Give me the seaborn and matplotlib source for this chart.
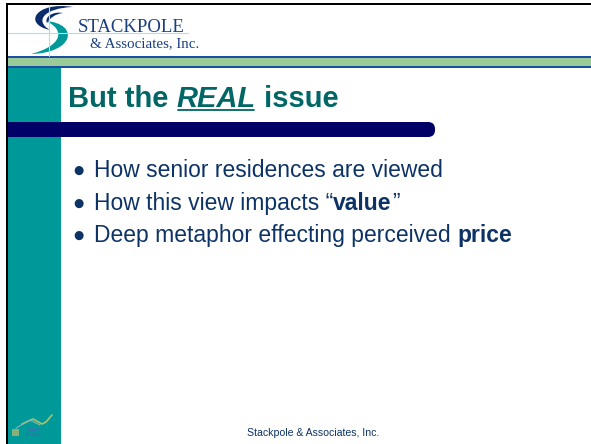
import numpy as np
import matplotlib.pyplot as plt
import seaborn as sns
from matplotlib.path import Path
from matplotlib.patches import PathPatch, Rectangle, FancyBboxPatch

sns.set_theme(style="white")
plt.rcParams['font.family'] = ['Liberation Sans', 'DejaVu Sans']

# slide text
company = ["STACKPOLE", "& Associates, Inc."]
title_parts = ["But the ", "REAL", " issue"]
bullets = [
    [("How senior residences are viewed", "normal")],
    [("How this view impacts \u201c", "normal"), ("value", "bold"), ("\u201d", "normal")],
    [("Deep metaphor effecting perceived ", "normal"), ("price", "bold")],
]
footer = "Stackpole & Associates, Inc."

W, H = 591, 444
fig = plt.figure(figsize=(W / 100, H / 100), dpi=100)
ax = fig.add_axes([0, 0, 1, 1])
ax.set_xlim(0, W)
ax.set_ylim(H, 0)
ax.axis('off')

teal = '#009999'
navy = '#000066'
text_navy = '#0d3366'
band_blue = '#1c4fa0'

# frame
ax.add_patch(Rectangle((6, 3), W, 2.2, color='black', lw=0))
ax.add_patch(Rectangle((6, 3), 2.2, H, color='black', lw=0))

# logo grid lines
ax.plot([8, 188], [33, 33], color='#b5dfdc', lw=0.8)
ax.plot([49, 49], [5, 56], color='#b5dfdc', lw=0.8)

# swoosh "S"
def crescent(p0, c1, c2, p1, d1, d2, color):
    verts = [p0, c1, c2, p1, d1, d2, p0, p0]
    codes = [Path.MOVETO, Path.CURVE4, Path.CURVE4, Path.CURVE4,
             Path.CURVE4, Path.CURVE4, Path.CURVE4, Path.CLOSEPOLY]
    ax.add_patch(PathPatch(Path(verts, codes), color=color, lw=0))

crescent((73, 7), (36, 1), (22, 24), (50, 30), (34, 21), (44, 8), '#0b2d6b')
crescent((46, 21), (80, 24), (74, 53), (31, 54), (62, 46), (66, 30), teal)
crescent((63, 13), (53, 11), (44, 17), (47, 23), (50, 18), (55, 14), '#0b2d6b')

ax.text(78, 32, company[0], fontsize=13.5, color='#1a3f80', family=['Liberation Serif'],
        ha='left', va='baseline')
ax.text(90, 47, company[1], fontsize=10.8, color='#1a3f80', family=['Liberation Serif'],
        ha='left', va='baseline')

# green band
ax.add_patch(Rectangle((8, 56), W, 12, color=band_blue, lw=0))
ax.add_patch(Rectangle((8, 58.2), W, 7.8, color='#99cc99', lw=0))

# teal side bar
ax.add_patch(Rectangle((8.2, 68), 52.8, H, color=teal, lw=0))

# navy bar with rounded end
ax.add_patch(Rectangle((8.2, 122), 420, 15, color=navy, lw=0))
ax.add_patch(FancyBboxPatch((410, 122), 25, 15, boxstyle='round,pad=0,rounding_size=7',
                            color=navy, lw=0))

# title
t_col = '#006666'
t1 = ax.text(68, 107, title_parts[0], fontsize=21, fontweight='bold', color=t_col,
             ha='left', va='baseline')
t2 = ax.annotate(title_parts[1], xy=(1, 0), xycoords=t1, fontsize=21, fontweight='bold',
                 fontstyle='italic', color=t_col, ha='left', va='bottom')
t3 = ax.annotate(title_parts[2], xy=(1, 0), xycoords=t2, fontsize=21, fontweight='bold',
                 color=t_col, ha='left', va='bottom')

# bullets
rows_y = [177, 209.5, 242]
for row, y in zip(bullets, rows_y):
    ax.text(78, y - 6.5, '\u25cf', fontsize=8.5, color=text_navy, ha='center', va='center',
            family=['DejaVu Sans'])
    prev = ax.text(94, y, row[0][0], fontsize=16.5, fontweight=row[0][1], color=text_navy,
                   ha='left', va='baseline')
    for txt, wt in row[1:]:
        prev = ax.annotate(txt, xy=(1, 0), xycoords=prev, fontsize=16.5, fontweight=wt,
                           color=text_navy, ha='left', va='bottom')

# footer
ax.text(313, 436, footer, fontsize=7.6, color=text_navy, ha='center', va='baseline')

# small sales source logo
ax.plot([22, 33, 42, 46, 52], [424, 419, 424, 422, 415], color='#a8c46a', lw=1.2)
ax.plot([16, 30, 40], [428, 420, 425], color='#8fb0b0', lw=0.8)
ax.text(27, 431, "SALES", fontsize=3, color='#3a6fb0', ha='left', va='baseline', fontweight='bold')
ax.text(25, 436, "SOURCE", fontsize=3, color='#3a6fb0', ha='left', va='baseline', fontweight='bold')
ax.add_patch(Rectangle((12, 429), 7, 7, color='#88b078', lw=0))

# underline REAL
fig.canvas.draw()
bb = t2.get_window_extent().transformed(ax.transData.inverted())
ax.plot([bb.x0 + 1, bb.x1 - 2], [110, 110], color=t_col, lw=1.3)

fig.savefig('out.png', dpi=100)
